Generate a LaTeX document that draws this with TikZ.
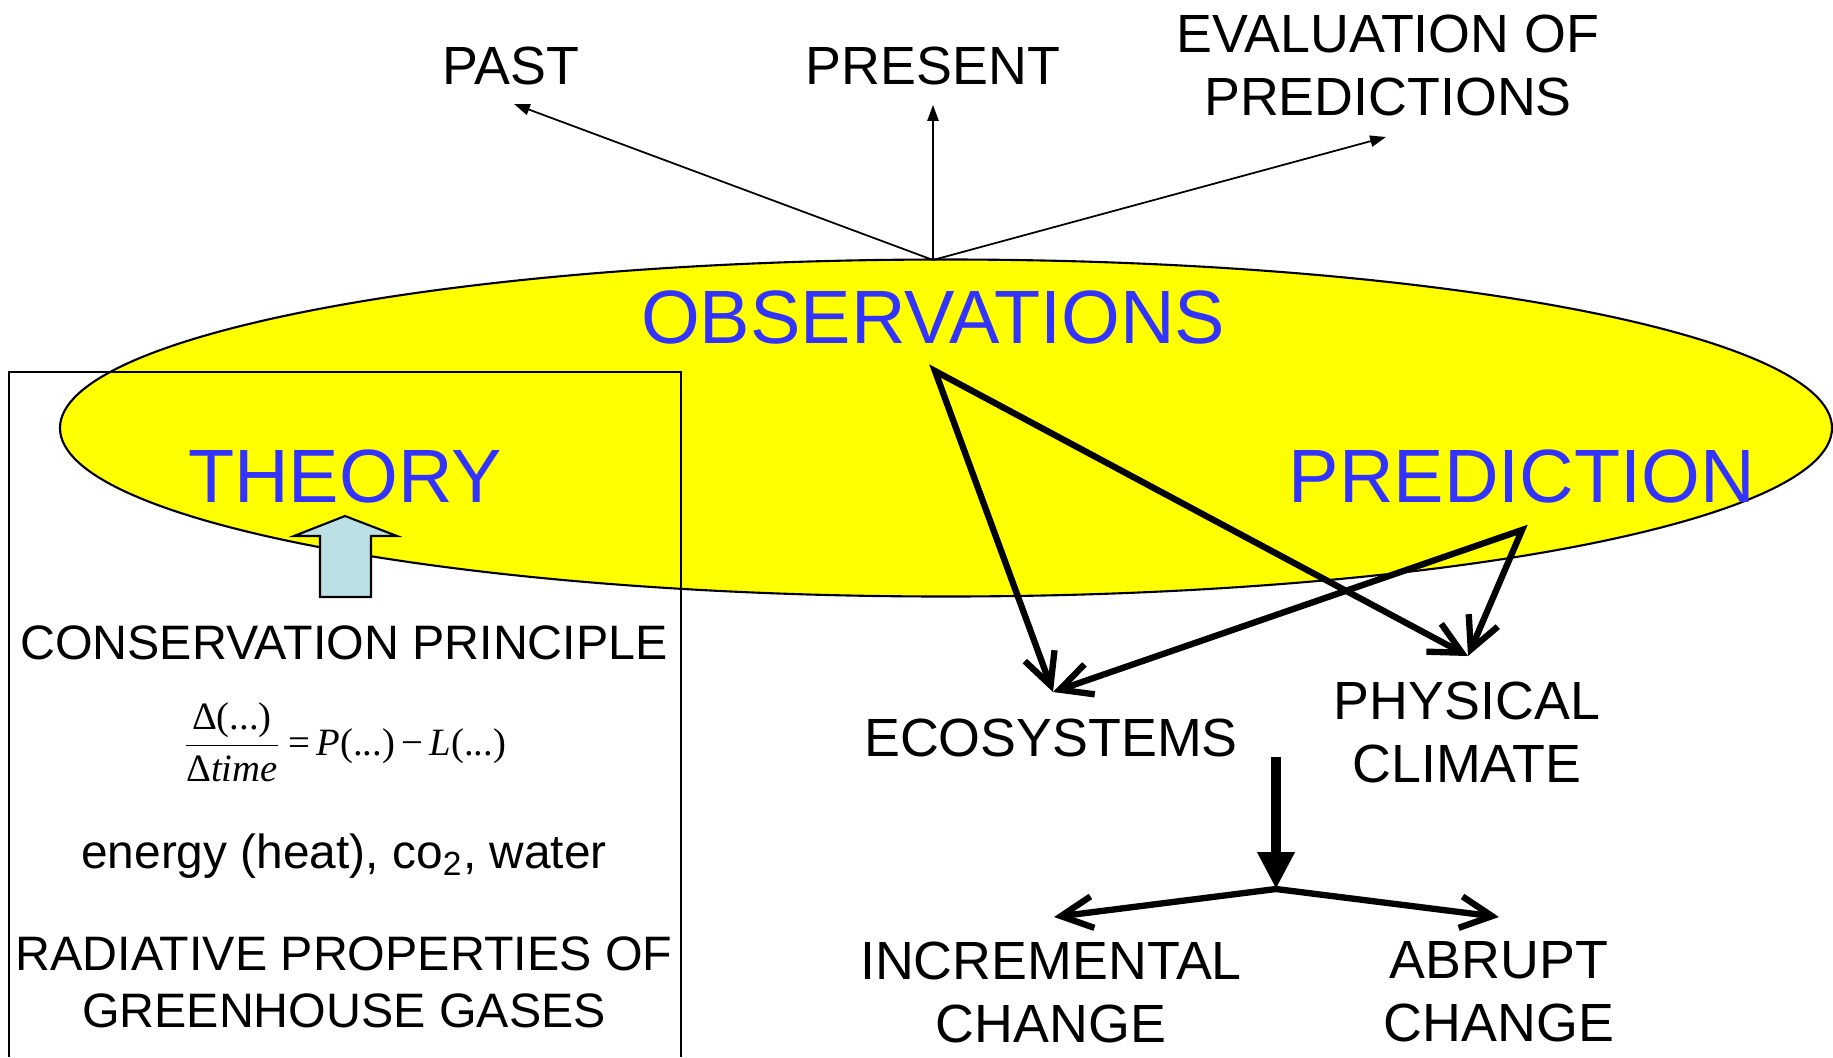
\documentclass[tikz,border=0pt]{standalone}
\usepackage{fontspec}
\setmainfont{Liberation Sans}
\newfontfamily\tfont{Liberation Serif}
\usetikzlibrary{arrows.meta}
\definecolor{obsblue}{RGB}{51,51,255}
\definecolor{ellyellow}{RGB}{255,255,0}
\definecolor{blockblue}{RGB}{187,224,227}
\begin{document}
\begin{tikzpicture}[x=0.01cm,y=-0.01cm,
  lbl/.style={font=\fontsize{15.3}{17.9}\selectfont, inner sep=0pt, align=center},
  boxlbl/.style={font=\fontsize{13.75}{16.2}\selectfont, inner sep=0pt, align=center},
  bigblue/.style={font=\fontsize{21.5}{25}\selectfont, text=obsblue, inner sep=0pt},
  thinarrow/.style={line width=0.5pt, -{Triangle[length=4.5pt,width=3.2pt]}},
  thickpair/.style={line width=1.8pt, {Straight Barb[length=9pt,width=9pt]}-{Straight Barb[length=9pt,width=9pt]}},
  downarrow/.style={line width=2.85pt, -{Triangle[length=10.5pt,width=10pt]}}
]
\useasboundingbox (0,0) rectangle (1833,1057);

% ellipse
\draw[fill=ellyellow, line width=0.6pt] (946,428) ellipse [x radius=886, y radius=168.5];

% box
\draw[line width=0.55pt] (9,1057) -- (9,372) -- (681,372) -- (681,1057);

% block arrow
\draw[fill=blockblue, line width=0.6pt] (345,516) -- (397,536) -- (371,536) -- (371,597) -- (320,597) -- (320,536) -- (294,536) -- cycle;

% texts
\node[lbl, anchor=base] (past) at (511,84) {PAST};
\node[lbl, anchor=base] (present) at (933,84) {PRESENT};
\node[lbl] (evalp) at (1388,65) {EVALUATION OF\\PREDICTIONS};
\node[bigblue, anchor=base] (obs) at (933,343) {OBSERVATIONS};
\node[bigblue, anchor=base] (theory) at (345,502) {THEORY};
\node[bigblue, anchor=base] (pred) at (1522,502) {PREDICTION};
\node[boxlbl, anchor=base] (cons) at (344,659) {CONSERVATION PRINCIPLE};
\node[inner sep=0pt, font=\fontsize{11}{13}\selectfont] (formula) at (344,742)
  {$\displaystyle\frac{\hbox{\tfont Δ(...)}}{\hbox{\tfont Δ\textit{time}}}\hbox{\tfont\,=\,\textit{P}(...)\,−\,\textit{L}(...)}$};
\node[boxlbl, font=\fontsize{13.6}{16.2}\selectfont, anchor=base] (energy) at (344,868) {energy (heat), co\textsubscript{2}, water};
\node[boxlbl] (rad) at (344,982) {RADIATIVE PROPERTIES OF\\GREENHOUSE GASES};
\node[lbl, anchor=base] (eco) at (1051,756) {ECOSYSTEMS};
\node[lbl] (phys) at (1467,732) {PHYSICAL\\CLIMATE};
\node[lbl] (incr) at (1051,992) {INCREMENTAL\\CHANGE};
\node[lbl] (abrupt) at (1499,992) {ABRUPT\\CHANGE};

% coordinates
\coordinate (obsapex) at (933,260);
\coordinate (pasttip) at (514,104);
\coordinate (presenttip) at (933,105);
\coordinate (evaltip) at (1386,137);
\coordinate (obsfrom) at (935,371);
\coordinate (predfrom) at (1522,530);
\coordinate (ecotip) at (1053,692);
\coordinate (phystip) at (1468,656);
\coordinate (downtop) at (1276,757);
\coordinate (apex) at (1276,889);
\coordinate (inctip) at (1054,917);
\coordinate (abrtip) at (1499,917);

% thin arrows
\draw[thinarrow] (obsapex) -- (pasttip);
\draw[thinarrow] (obsapex) -- (presenttip);
\draw[thinarrow] (obsapex) -- (evaltip);

% thick arrows
\draw[thickpair] (ecotip) -- (obsfrom) -- (phystip);
\draw[thickpair] (ecotip) -- (predfrom) -- (phystip);
\draw[downarrow] (downtop) -- (apex);
\draw[thickpair] (inctip) -- (apex) -- (abrtip);
\end{tikzpicture}
\end{document}
